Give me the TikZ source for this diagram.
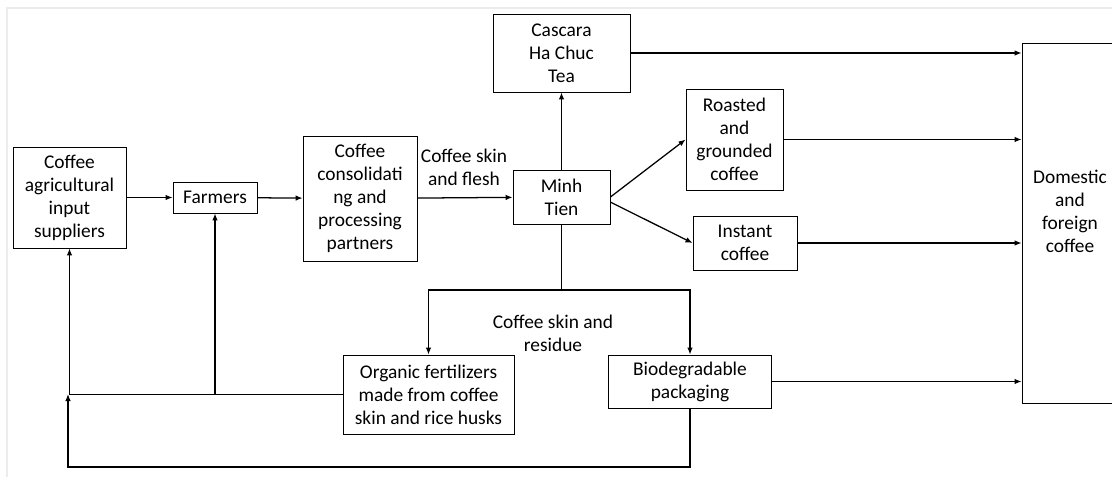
\documentclass[tikz,border=0pt]{standalone}
\usepackage{fontspec}
\setmainfont{Carlito}
\usetikzlibrary{arrows.meta}

\begin{document}
\begin{tikzpicture}[x=0.025cm,y=-0.025cm,
	box/.style={draw,line width=0.6pt,align=center,inner sep=0pt,font=\fontsize{13.8}{16.4}\selectfont},
	arr/.style={line width=0.9pt,-{Latex[length=5pt,width=4pt]}},
	lbl/.style={align=center,font=\fontsize{13.8}{16.4}\selectfont}]
	\useasboundingbox (0,0) rectangle (1112,477);
	% frame of the page
	\draw[gray!15,line width=0.8pt] (7,477) -- (7,8) -- (1112,8);
	% boxes
	\node[box,minimum width=2.825cm,minimum height=2.525cm] (sup) at (69.5,197.5) {Coffee\\agricultural\\input\\suppliers};
	\node[box,minimum width=2.1cm,minimum height=0.775cm] (farm) at (215,197.5) {Farmers};
	\node[box,minimum width=2.85cm,minimum height=3.125cm] (cons) at (360,198.5) {Coffee\\consolidati\\ng and\\processing\\partners};
	\node[box,minimum width=2.425cm,minimum height=1.35cm] (minh) at (561.5,197) {Minh\\Tien};
	\node[box,minimum width=3.425cm,minimum height=1.95cm] (casc) at (561.5,53) {Cascara\\Ha Chuc\\Tea};
	\node[box,minimum width=2.425cm,minimum height=2.525cm] (roast) at (734.5,139.5) {Roasted\\and\\grounded\\coffee};
	\node[box,minimum width=2.6cm,minimum height=1.35cm] (inst) at (745,243) {Instant\\coffee};
	\node[box,minimum width=2.4cm,minimum height=9cm] (dom) at (1070,223) {Domestic\\and\\foreign\\coffee\\[0.7pt]\mbox{}};
	\node[box,minimum width=4.275cm,minimum height=1.975cm] (org) at (428.5,394.5) {Organic fertilizers\\made from coffee\\skin and rice husks};
	\node[box,minimum width=4.075cm,minimum height=1.325cm] (bio) at (690,381.5) {Biodegradable\\packaging};
	% labels
	\node[lbl] (flesh) at (464,167) {Coffee skin\\and flesh};
	\node[lbl] (resid) at (553,333) {Coffee skin and\\residue};
	% helper points
	\coordinate (split) at (561.5,290);
	\coordinate (low) at (68,467);
	\coordinate (mid) at (68,394);
	% arrows
	\draw[arr] (sup) -- (farm);
	\draw[arr] (farm) -- (cons);
	\draw[arr] (cons) -- (minh);
	\draw[arr] (minh) -- (casc);
	\draw[arr] (minh.east) -- (roast.west);
	\draw[arr] (minh.-6) -- (inst.west);
	\draw[line width=0.9pt] (minh) -- (split);
	\draw[arr] (split) -| (org.north);
	\draw[arr] (split) -| (bio.north);
	\draw[arr] (casc.east) -- (casc.east -| dom.west);
	\draw[arr] (roast.east) -- (roast.east -| dom.west);
	\draw[arr] (inst.east) -- (inst.east -| dom.west);
	\draw[arr] (bio.east) -- (bio.east -| dom.west);
	\draw[arr] (org.west) -| (sup.south);
	\draw[arr] (org.west -| farm) -- (farm.south);
	\draw[arr] (bio.south) |- (low) -- (mid);
\end{tikzpicture}
\end{document}
